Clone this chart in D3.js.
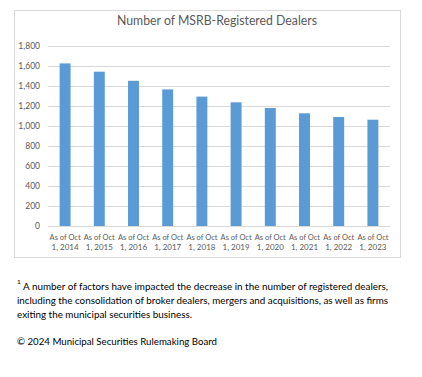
<!DOCTYPE html>
<html>
<head>
<meta charset="utf-8">
<script src="https://cdn.jsdelivr.net/npm/d3@7"></script>
<style>
  body { margin: 0; background: #fff; }
  text { font-family: Lato, "Open Sans", sans-serif; }
</style>
</head>
<body>
<div id="chartDiv"></div>
<script>
// chart data
const years = ["2014", "2015", "2016", "2017", "2018", "2019", "2020", "2021", "2022", "2023"];
const dealerCounts = [1626, 1543, 1452, 1366, 1294, 1237, 1180, 1127, 1090, 1063];
const yTicks = [0, 200, 400, 600, 800, 1000, 1200, 1400, 1600, 1800];
const chartTitle = "Number of MSRB-Registered Dealers";
const footLines = [
	"A number of factors have impacted the decrease in the number of registered dealers,",
	"including the consolidation of broker dealers, mergers and acquisitions, as well as firms",
	"exiting the municipal securities business."
];
const copyText = "\u00a9 2024 Municipal Securities Rulemaking Board";

const W = 422, H = 377;
const frame = {left: 14, top: 10, right: 400, bottom: 257};
const plot = {left: 48, right: 390, top: 46, bottom: 226};

const svg = d3.select("#chartDiv").append("svg")
	.attr("width", W)
	.attr("height", H);

// outer chart frame
svg.append("rect")
	.attr("x", frame.left + 0.5)
	.attr("y", frame.top + 0.5)
	.attr("width", frame.right - frame.left)
	.attr("height", frame.bottom - frame.top)
	.attr("fill", "#fff")
	.attr("stroke", "#d9d9d9");

svg.append("text")
	.attr("x", 117)
	.attr("y", 25)
	.attr("font-size", "13.5px")
	.attr("fill", "#595959")
	.attr("textLength", 200)
	.attr("lengthAdjust", "spacingAndGlyphs")
	.text(chartTitle);

const x = d3.scaleBand()
	.domain(years)
	.range([plot.left, plot.right])
	.paddingInner(0.68)
	.paddingOuter(0.34);

const y = d3.scaleLinear()
	.domain([0, 1800])
	.range([plot.bottom, plot.top]);

// gridlines + y labels
const yAxis = d3.axisLeft(y)
	.tickValues(yTicks)
	.tickSize(-(plot.right - plot.left))
	.tickPadding(8)
	.tickFormat(d3.format(","));

const yG = svg.append("g")
	.attr("transform", `translate(${plot.left},0)`)
	.call(yAxis);
yG.select(".domain").remove();
yG.selectAll(".tick line").attr("stroke", "#d9d9d9");
yG.selectAll(".tick text")
	.attr("fill", "#595959")
	.attr("font-size", "8.5px")
	.attr("font-family", "Lato, sans-serif");

svg.selectAll("rect.bar")
	.data(dealerCounts)
	.enter()
	.append("rect")
	.attr("class", "bar")
	.attr("x", (d, i) => x(years[i]))
	.attr("width", x.bandwidth())
	.attr("y", d => y(d))
	.attr("height", d => y(0) - y(d))
	.attr("fill", "#5b9bd5");

// x axis line
svg.append("line")
	.attr("x1", plot.left).attr("x2", plot.right)
	.attr("y1", plot.bottom + 0.5).attr("y2", plot.bottom + 0.5)
	.attr("stroke", "#d9d9d9");

// two-line category labels
const xLab = svg.append("g").selectAll("text")
	.data(years)
	.enter()
	.append("text")
	.attr("text-anchor", "middle")
	.attr("font-size", "8px")
	.attr("fill", "#595959")
	.attr("x", d => x(d) + x.bandwidth() / 2)
	.attr("y", 240);
xLab.append("tspan")
	.attr("textLength", 31)
	.attr("lengthAdjust", "spacingAndGlyphs")
	.text("As of Oct");
xLab.append("tspan")
	.attr("x", d => x(d) + x.bandwidth() / 2)
	.attr("dy", 10)
	.text(d => "1, " + d);

// footnote
const foot = svg.append("g").attr("fill", "#000").attr("font-size", "10px");
foot.append("text")
	.attr("x", 17).attr("y", 284)
	.attr("font-size", "6.5px")
	.text("1");
foot.selectAll("text.fn")
	.data(footLines)
	.enter()
	.append("text")
	.attr("class", "fn")
	.attr("x", (d, i) => i === 0 ? 23 : 17)
	.attr("y", (d, i) => 290 + i * 14)
	.attr("textLength", (d, i) => [365, 371, 175][i])
	.attr("lengthAdjust", "spacingAndGlyphs")
	.text(d => d);

foot.append("text")
	.attr("x", 17).attr("y", 345)
	.attr("textLength", 200)
	.attr("lengthAdjust", "spacingAndGlyphs")
	.text(copyText);
</script>
</body>
</html>
